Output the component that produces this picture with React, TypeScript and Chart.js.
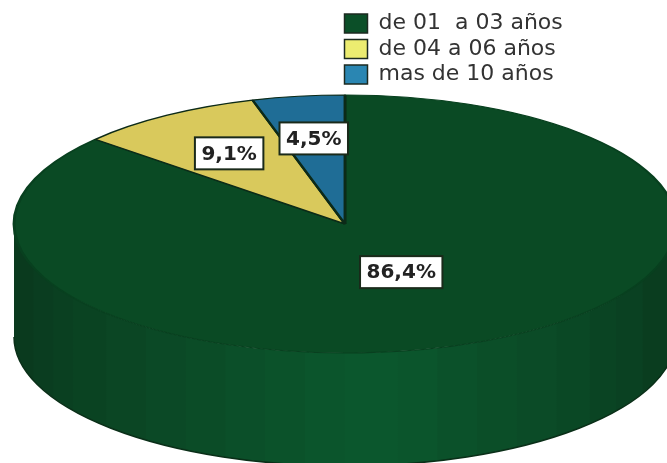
import React, { useEffect, useRef } from "react";
import { Chart, registerables } from "chart.js";

Chart.register(...registerables);

const categories = ["de 01  a 03 años", "de 04 a 06 años", "mas de 10 años"];
const values = [86.4, 9.1, 4.5];
const valueLabels = ["86,4%", "9,1%", "4,5%"];
const sliceColors = ["#0a4a24", "#d9c95c", "#1f6d96"];
const sliceBorders = ["#08401f", "#0c2a18", "#0c2a18"];
const legendColors = ["#0b4f28", "#ecec70", "#2a86b2"];
const labelRadii = [0.41, 0.65, 0.67];
const wallBands: [number, string][] = [
  [0, "#0a3a1e"],
  [0.03, "#0a3d20"],
  [0.06, "#0a4021"],
  [0.09, "#0a4322"],
  [0.14, "#0b4624"],
  [0.2, "#0b4926"],
  [0.26, "#0b4c27"],
  [0.32, "#0b4f29"],
  [0.38, "#0b522a"],
  [0.44, "#0b552c"],
  [0.5, "#0b572d"],
  [0.58, "#0b552c"],
  [0.64, "#0b512a"],
  [0.7, "#0b4e28"],
  [0.76, "#0b4b27"],
  [0.82, "#0a4825"],
  [0.87, "#0a4423"],
  [0.91, "#0a4122"],
  [0.95, "#0a3d1f"],
];

const SHAPE = { cx: 345, cy: 224, rx: 331, ry: 129, depth: 113 };

const toScreen = (el: any, x: number, y: number) => ({
  x: SHAPE.cx + ((x - el.x) * SHAPE.rx) / el.outerRadius,
  y: SHAPE.cy + ((y - el.y) * SHAPE.ry) / el.outerRadius,
});

const pie3d = {
  id: "pie3d",
  afterLayout(chart: any) {
    const lg = chart.legend;
    if (!lg) return;
    const w = lg.width, h = lg.height;
    lg.left = 341; lg.top = 9; lg.right = lg.left + w; lg.bottom = lg.top + h;
  },
  beforeDatasetsDraw(chart: any) {
    const { ctx } = chart;
    const { cx, cy, rx, ry, depth } = SHAPE;
    const g = ctx.createLinearGradient(cx - rx, 0, cx + rx, 0);
    wallBands.forEach(([pos, color], i) => {
      const next = i + 1 < wallBands.length ? wallBands[i + 1][0] : 1;
      g.addColorStop(pos, color);
      g.addColorStop(next - 0.001, color);
    });
    chart.getDatasetMeta(0).data.forEach((el: any) => {
      const a0 = Math.max(el.startAngle, 0);
      const a1 = Math.min(el.endAngle, Math.PI);
      if (a1 <= a0) return;
      ctx.save();
      ctx.beginPath();
      ctx.ellipse(cx, cy, rx, ry, 0, a0, a1, false);
      ctx.ellipse(cx, cy + depth, rx, ry, 0, a1, a0, true);
      ctx.closePath();
      ctx.fillStyle = g;
      ctx.fill();
      ctx.beginPath();
      ctx.ellipse(cx, cy + depth, rx, ry, 0, a0, a1, false);
      ctx.strokeStyle = "#0a2f18";
      ctx.lineWidth = 1.5;
      ctx.stroke();
      ctx.restore();
    });
  },
  beforeDatasetDraw(chart: any) {
    const { ctx } = chart;
    const el = chart.getDatasetMeta(0).data[0];
    ctx.save();
    ctx.translate(SHAPE.cx, SHAPE.cy);
    ctx.scale(SHAPE.rx / el.outerRadius, SHAPE.ry / el.outerRadius);
    ctx.translate(-el.x, -el.y);
  },
  afterDatasetDraw(chart: any) {
    chart.ctx.restore();
  },
  afterDatasetsDraw(chart: any) {
    const { ctx } = chart;
    ctx.save();
    ctx.font = "bold 20px 'DejaVu Sans'";
    ctx.textAlign = "center";
    ctx.textBaseline = "middle";
    chart.getDatasetMeta(0).data.forEach((el: any, i: number) => {
      const mid = (el.startAngle + el.endAngle) / 2;
      const r = el.outerRadius * labelRadii[i];
      const p = toScreen(el, el.x + Math.cos(mid) * r, el.y + Math.sin(mid) * r);
      const text = valueLabels[i];
      const w = ctx.measureText(text).width + 13;
      const h = 32;
      ctx.fillStyle = "#ffffff";
      ctx.strokeStyle = "#1a2a1a";
      ctx.lineWidth = 2;
      ctx.fillRect(p.x - w / 2, p.y - h / 2, w, h);
      ctx.strokeRect(p.x - w / 2, p.y - h / 2, w, h);
      ctx.fillStyle = "#222222";
      ctx.fillText(text, p.x, p.y + 1);
    });
    ctx.restore();
  },
};

export default function App() {
  const ref = useRef<HTMLCanvasElement>(null);
  useEffect(() => {
    const chart = new Chart(ref.current!, {
      type: "pie",
      data: {
        labels: categories,
        datasets: [
          {
            data: values,
            backgroundColor: sliceColors,
            borderColor: sliceBorders,
            borderWidth: 2,
            clip: false,
          } as any,
        ],
      },
      options: {
        responsive: false,
        animation: false,
        devicePixelRatio: 1,
        layout: { padding: 0 },
        plugins: {
          tooltip: { enabled: false },
          legend: {
            position: "chartArea",
            align: "start",
            labels: {
              boxWidth: 23,
              boxHeight: 19,
              padding: 3.5,
              color: "#333333",
              font: { family: "'DejaVu Sans'", size: 22 },
              generateLabels: () =>
                categories.map((text, i) => ({
                  text,
                  fillStyle: legendColors[i],
                  strokeStyle: "#1c2a20",
                  lineWidth: 1.5,
                  fontColor: "#333333",
                  index: i,
                })),
            },
          },
        },
      } as any,
      plugins: [pie3d],
    });
    return () => chart.destroy();
  }, []);
  return (
    <canvas
      ref={ref}
      width={667}
      height={463}
      style={{ position: "absolute", left: 0, top: 0, width: 667, height: 463, display: "block", filter: "blur(0.5px)" }}
    />
  );
}
